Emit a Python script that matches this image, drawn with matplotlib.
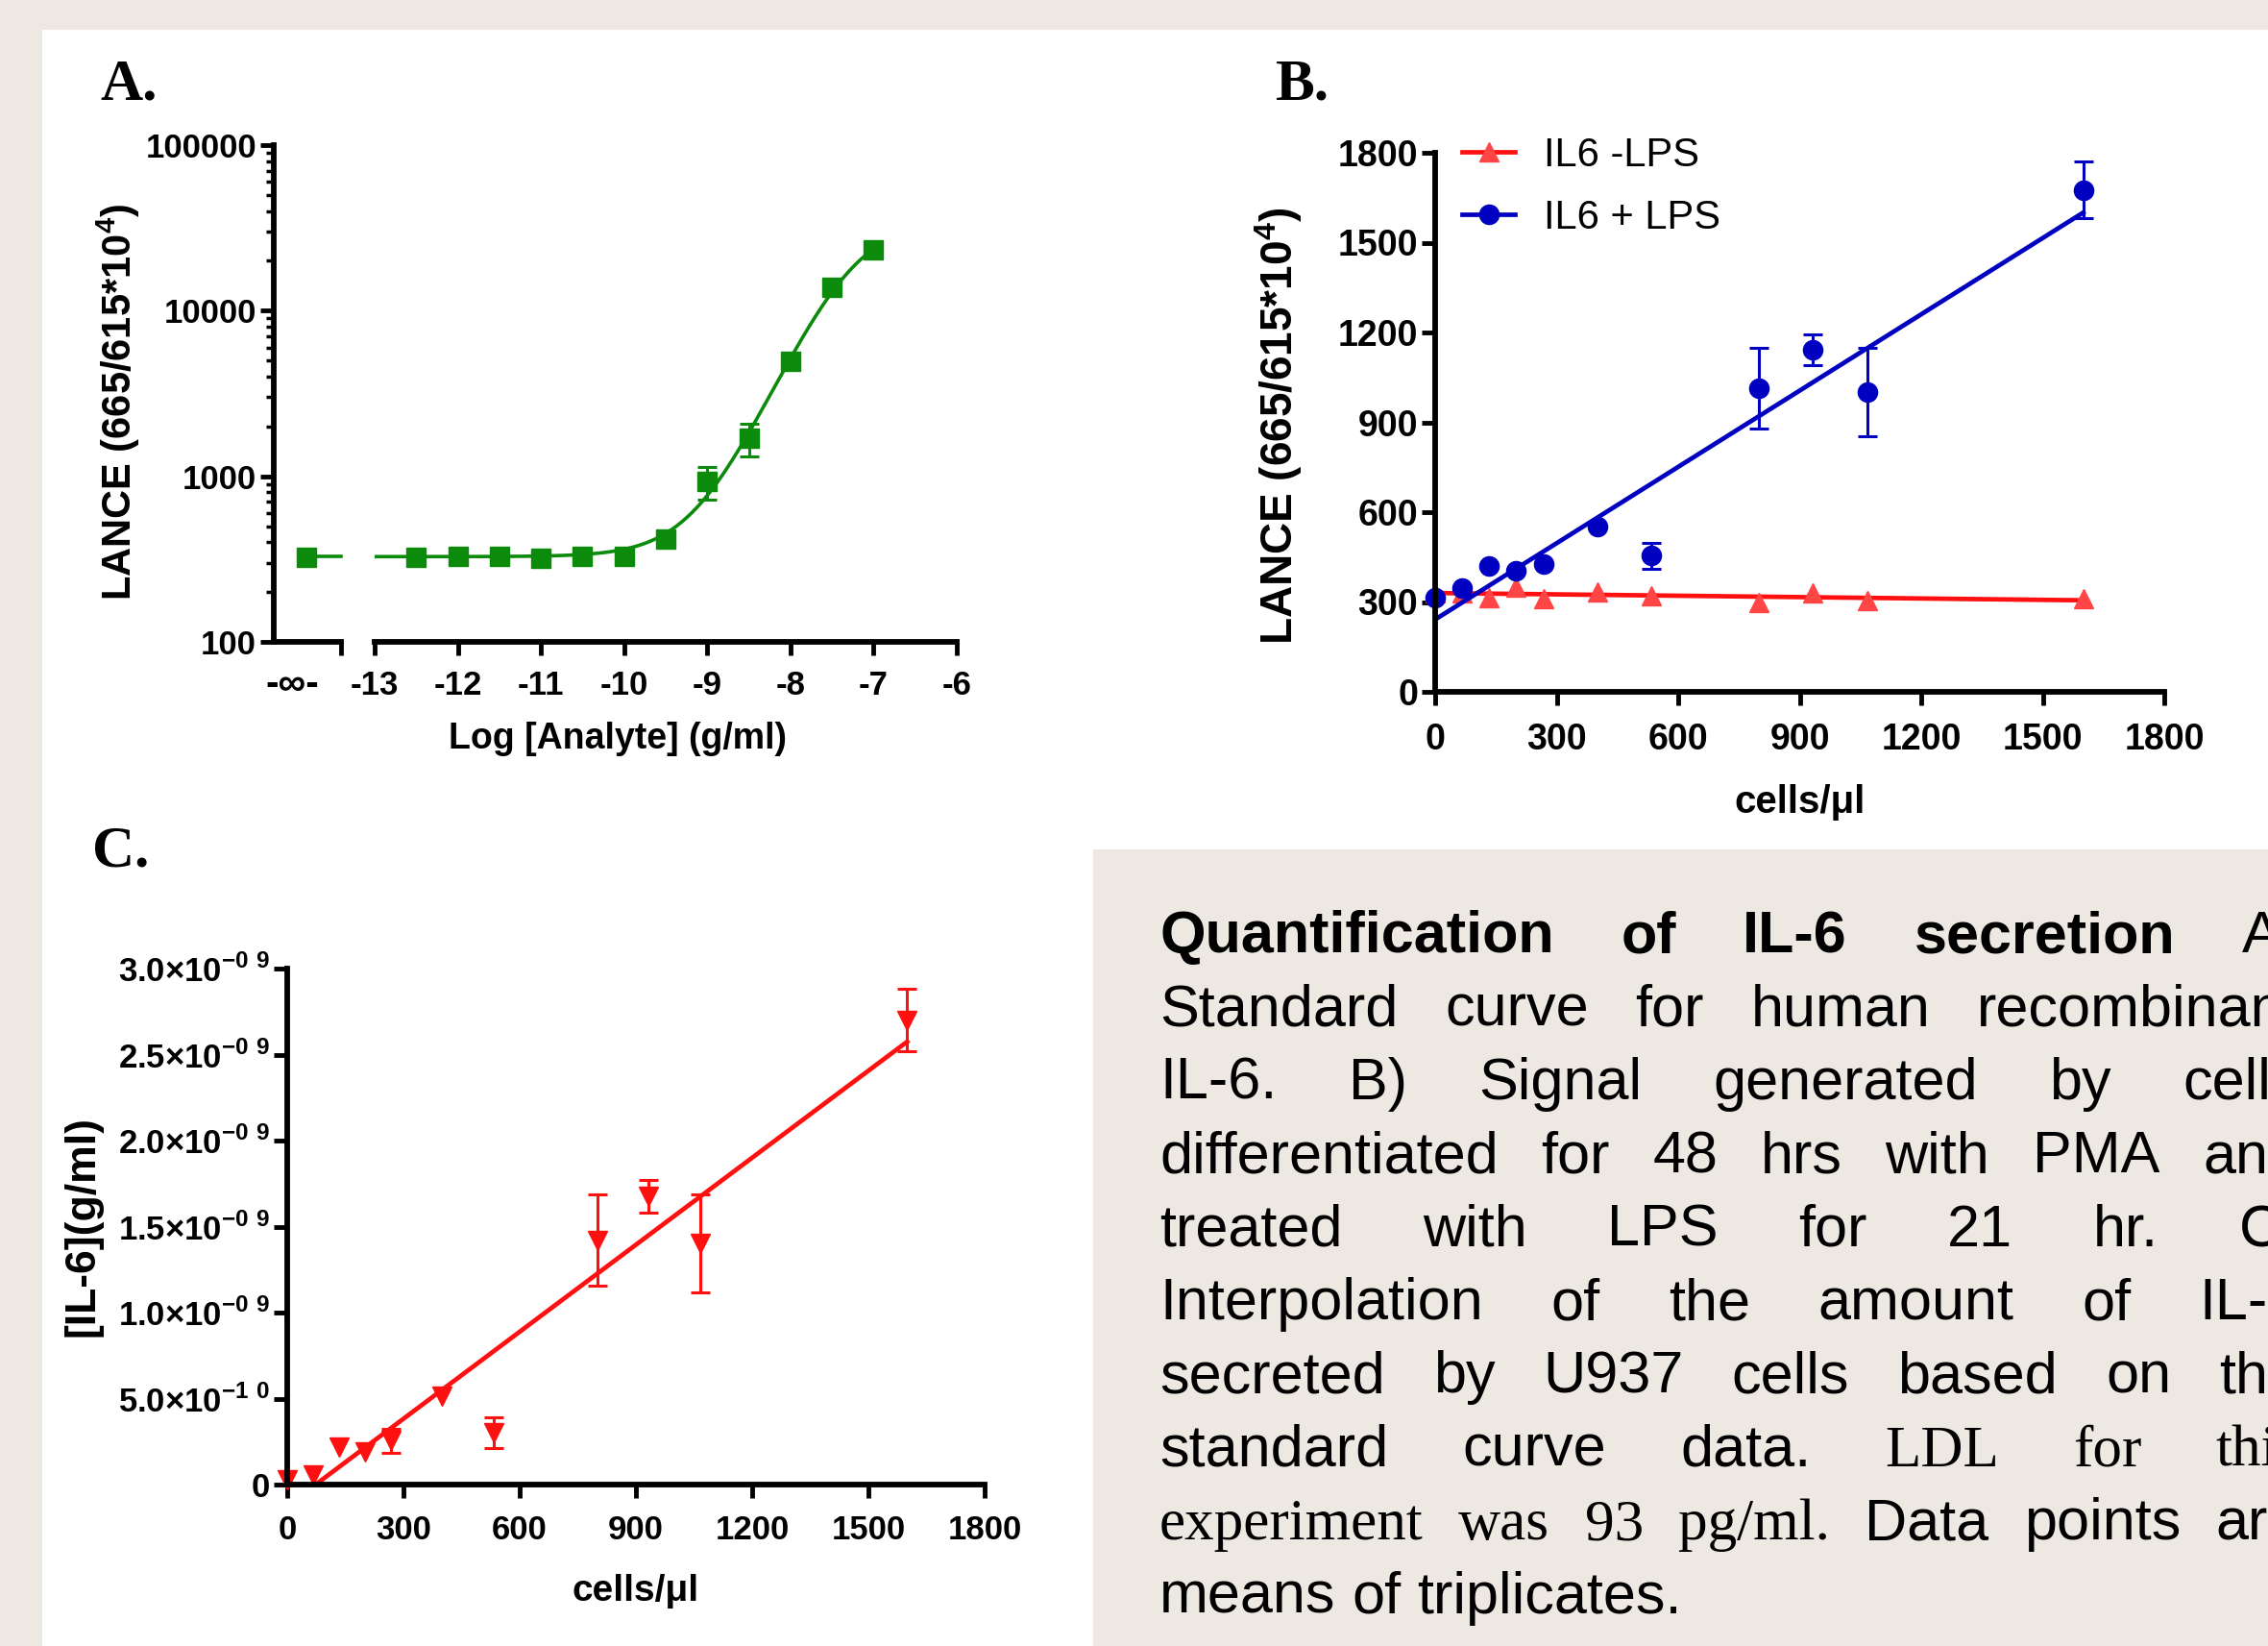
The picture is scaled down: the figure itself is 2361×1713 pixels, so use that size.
import numpy as np
import matplotlib
matplotlib.use('Agg')
import matplotlib.pyplot as plt
from matplotlib.lines import Line2D
from matplotlib.patches import Rectangle
from matplotlib.ticker import FixedLocator, FixedFormatter, LogLocator, NullFormatter

W, H = 2361, 1713
BEIGE = '#EDE9E2'
GREEN = '#0B8A0B'
BLUE = '#0000C0'
RED = '#FF1010'
RED_LIGHT = '#FF4545'

plt.rcParams['font.family'] = ['Liberation Sans', 'DejaVu Sans']
plt.rcParams['font.weight'] = 'bold'
plt.rcParams['axes.unicode_minus'] = False
plt.rcParams['mathtext.fontset'] = 'custom'
plt.rcParams['mathtext.rm'] = 'Liberation Sans'
plt.rcParams['mathtext.bf'] = 'Liberation Sans:bold'

# ---- panel A: standard curve (log conc vs LANCE signal)
a_logconc = [-12.5, -12, -11.5, -11, -10.5, -10, -9.5, -9, -8.5, -8, -7.5, -7]
a_lance = [325, 330, 330, 320, 330, 328, 418, 930, 1690, 4950, 13900, 23300]
a_err = [0, 0, 0, 0, 0, 0, 0, 210, 380, 0, 0, 0]
a_blank = 322
a_xticks = [-13, -12, -11, -10, -9, -8, -7, -6]
a_yticks = [100, 1000, 10000, 100000]
a_yticklabels = ['100', '1000', '10000', '100000']

# ---- panel B: signal vs cell density
cells = [0, 67, 133, 200, 267, 400, 533, 800, 933, 1067, 1600]
b_lps = [315, 347, 419, 405, 428, 551, 455, 1013, 1143, 1001, 1676]
b_lps_err = [0, 0, 0, 0, 0, 0, 43, 135, 51, 147, 95]
b_nolps = [332, 330, 315, 351, 311, 335, 320, 299, 329, 306, 311]
b_ticks = [0, 300, 600, 900, 1200, 1500, 1800]

# ---- panel C: interpolated IL-6 (x1e-9 g/ml)
c_il6 = [0.03, 0.055, 0.22, 0.19, 0.255, 0.516, 0.30, 1.42, 1.675, 1.40, 2.70]
c_err = [0, 0, 0, 0, 0.07, 0, 0.09, 0.265, 0.095, 0.285, 0.18]
c_yticks = [0, 0.5, 1.0, 1.5, 2.0, 2.5, 3.0]
c_yticklabels = ['0',
                 r'5.0×10$^{\mathbf{-1\ 0}}$',
                 r'1.0×10$^{\mathbf{-0\ 9}}$',
                 r'1.5×10$^{\mathbf{-0\ 9}}$',
                 r'2.0×10$^{\mathbf{-0\ 9}}$',
                 r'2.5×10$^{\mathbf{-0\ 9}}$',
                 r'3.0×10$^{\mathbf{-0\ 9}}$']

cap_lines = [
    [('Quantification of IL-6 secretion', 'bold', 'sans'), ('A)', 'normal', 'sans')],
    [('Standard curve for human recombinant', 'normal', 'sans')],
    [('IL-6. B) Signal generated by cells', 'normal', 'sans')],
    [('differentiated for 48 hrs with PMA and', 'normal', 'sans')],
    [('treated with LPS for 21 hr. C)', 'normal', 'sans')],
    [('Interpolation of the amount of IL-6', 'normal', 'sans')],
    [('secreted by U937 cells based on the', 'normal', 'sans')],
    [('standard curve data.', 'normal', 'sans'), ('LDL for this', 'normal', 'serif')],
    [('experiment was 93 pg/ml.', 'normal', 'serif'), ('Data points are', 'normal', 'sans')],
    [('means of triplicates.', 'normal', 'sans')],
]


def px_axes(l, t, r, b):
    ax = fig.add_axes([l / W, 1 - b / H, (r - l) / W, (b - t) / H])
    ax.patch.set_alpha(0)
    return ax


def style(ax, size, xpad):
    for s in ['top', 'right']:
        ax.spines[s].set_visible(False)
    for s in ['left', 'bottom']:
        ax.spines[s].set_linewidth(4.2)
    ax.tick_params(direction='out', length=10, width=3.5, labelsize=size)
    ax.tick_params(axis='y', pad=3)
    ax.tick_params(axis='x', pad=xpad)


fig = plt.figure(figsize=(W / 100, H / 100), dpi=100, facecolor=BEIGE)
fig.add_artist(Rectangle((44 / W, 0), 1 - 44 / W, 1 - 31 / H, transform=fig.transFigure,
                         facecolor='white', edgecolor='none', zorder=-5))
fig.add_artist(Rectangle((1138 / W, 0), 1 - 1138 / W, 1 - 884 / H, transform=fig.transFigure,
                         facecolor=BEIGE, edgecolor='none', zorder=-4))

# ================= A =================
x = np.array(a_logconc)
y = np.array(a_lance)
bottom = np.mean(y[:6])
tops = np.linspace(15000, 80000, 66)
ecs = np.linspace(-9, -6, 151)
hills = np.linspace(0.5, 2.0, 31)
T, E, S = np.meshgrid(tops, ecs, hills, indexing='ij')
pred = bottom + (T[..., None] - bottom) / (1 + 10 ** ((E[..., None] - x) * S[..., None]))
sse = ((np.log10(pred) - np.log10(y)) ** 2).sum(-1)
i, j, k = np.unravel_index(np.argmin(sse), sse.shape)
top, ec50, hill = tops[i], ecs[j], hills[k]

axl = px_axes(285, 151, 355, 668)
axa = px_axes(390, 151, 996, 668)
for ax in (axl, axa):
    style(ax, 25, 11)
    ax.set_yscale('log')
    ax.set_ylim(100, 100000)
axa.spines['left'].set_visible(False)
axa.tick_params(axis='y', which='both', left=False, labelleft=False)
axl.yaxis.set_major_locator(FixedLocator(a_yticks))
axl.yaxis.set_major_formatter(FixedFormatter(a_yticklabels))
axl.yaxis.set_minor_locator(LogLocator(base=10, subs=np.arange(2, 10)))
axl.yaxis.set_minor_formatter(NullFormatter())
axl.tick_params(axis='y', which='minor', length=6, width=2.5)
axl.set_xlim(0, 1)
axl.set_xticks([1.0])
axl.set_xticklabels([''])
axl.plot([0.486, 1.0], [bottom, bottom], color=GREEN, lw=2.6, clip_on=False)
axl.plot([0.486], [a_blank], 's', color=GREEN, ms=14, clip_on=False)

axa.set_xlim(-13, -6)
axa.set_xticks(a_xticks)
xc = np.linspace(-13, -7, 300)
axa.plot(xc, bottom + (top - bottom) / (1 + 10 ** ((ec50 - xc) * hill)), color=GREEN, lw=2.6)
axa.plot(x, y, 's', color=GREEN, ms=14, clip_on=False)
e = np.array(a_err)
m = e > 0
axa.errorbar(x[m], y[m], yerr=e[m], fmt='none', ecolor=GREEN, elinewidth=2.2,
             capsize=7, capthick=2.2)

fig.text(304 / W, 1 - 712 / H, '-∞-', fontsize=29, ha='center', va='center')
fig.text(643 / W, 1 - 769 / H, 'Log [Analyte] (g/ml)', fontsize=27, ha='center', va='center')
fig.text(123 / W, 1 - 418 / H, r'LANCE (665/615*10$^{\mathbf{4}}$)', fontsize=30,
         rotation=90, ha='center', va='center')
fig.text(104 / W, 1 - 104 / H, 'A.', family='Liberation Serif', fontsize=44, va='baseline')

# ================= B =================
axb = px_axes(1494, 159, 2253, 720)
style(axb, 27, 13)
axb.set_xlim(0, 1800)
axb.set_ylim(0, 1800)
axb.set_xticks(b_ticks)
axb.set_yticks(b_ticks)
cx = np.array(cells)
xl = np.array([0, 1600])
p_red = np.polyfit(cx, b_nolps, 1)
p_blue = np.polyfit(cx, b_lps, 1)
axb.plot(xl, np.polyval(p_red, xl), color=RED, lw=3.4)
axb.plot(cx, b_nolps, '^', color=RED_LIGHT, ms=15, clip_on=False)
axb.plot(xl, np.polyval(p_blue, xl), color=BLUE, lw=3.4)
eb = np.array(b_lps_err)
m = eb > 0
axb.errorbar(cx[m], np.array(b_lps)[m], yerr=eb[m], fmt='none', ecolor=BLUE,
             elinewidth=2.2, capsize=7, capthick=2.2)
axb.plot(cx, b_lps, 'o', color=BLUE, ms=14.5, clip_on=False)
handles = [Line2D([], [], color=RED, lw=3.4, marker='^', ms=15, mfc=RED_LIGHT, mec=RED_LIGHT),
           Line2D([], [], color=BLUE, lw=3.4, marker='o', ms=14.5)]
fig.legend(handles, ['IL6 -LPS', 'IL6 + LPS'], loc='upper left',
           bbox_to_anchor=(1522 / W, 1 - 142 / H), frameon=False, borderpad=0,
           borderaxespad=0, handlelength=1.33, handletextpad=0.72, labelspacing=0.6,
           prop={'family': 'Liberation Sans', 'weight': 'normal', 'size': 30})
fig.text(1874 / W, 1 - 835 / H, 'cells/μl', fontsize=29, ha='center', va='center')
fig.text(1331 / W, 1 - 443 / H, r'LANCE (665/615*10$^{\mathbf{4}}$)', fontsize=33,
         rotation=90, ha='center', va='center')
fig.text(1328 / W, 1 - 104 / H, 'B.', family='Liberation Serif', fontsize=44, va='baseline')

# ================= C =================
axc = px_axes(299, 1008, 1025, 1545)
style(axc, 25, 12)
axc.set_xlim(0, 1800)
axc.set_ylim(0, 3.0)
axc.set_xticks(b_ticks)
axc.set_yticks(c_yticks)
axc.set_yticklabels(c_yticklabels)
p_c = np.polyfit(cx, c_il6, 1)
axc.plot(xl, np.polyval(p_c, xl), color=RED, lw=3.4)
ec = np.array(c_err)
m = ec > 0
axc.errorbar(cx[m], np.array(c_il6)[m], yerr=ec[m], fmt='none', ecolor=RED,
             elinewidth=2.2, capsize=7, capthick=2.2)
axc.plot(cx, c_il6, 'v', color=RED, ms=15, clip_on=False)
fig.text(662 / W, 1 - 1656 / H, 'cells/μl', fontsize=28, ha='center', va='center')
fig.text(86 / W, 1 - 1276 / H, '[IL-6](g/ml)', fontsize=32, rotation=90,
         ha='center', va='center')
fig.text(96 / W, 1 - 902 / H, 'C.', family='Liberation Serif', fontsize=44, va='baseline')

# ================= caption (justified, runs past the right edge as in the poster) =================
FAM = {'sans': 'Liberation Sans', 'serif': 'Liberation Serif'}
cap_left, cap_right = 1207, 2395
cap_top, cap_step = 991, 76.4
renderer = fig.canvas.get_renderer()
for n, line in enumerate(cap_lines):
    words = [(w, wt, fam) for seg, wt, fam in line for w in seg.split()]
    yb = 1 - (cap_top + n * cap_step) / H
    texts = [fig.text(0, yb, w, fontsize=44, fontweight=wt, family=FAM[fam], va='baseline')
             for w, wt, fam in words]
    widths = [t.get_window_extent(renderer).width for t in texts]
    if n == len(cap_lines) - 1:
        gap = 17
    else:
        gap = (cap_right - cap_left - sum(widths)) / (len(words) - 1)
    xp = cap_left
    for t, wd in zip(texts, widths):
        t.set_x(xp / W)
        xp += wd + gap

fig.savefig('out.png', dpi=100, facecolor=BEIGE)
